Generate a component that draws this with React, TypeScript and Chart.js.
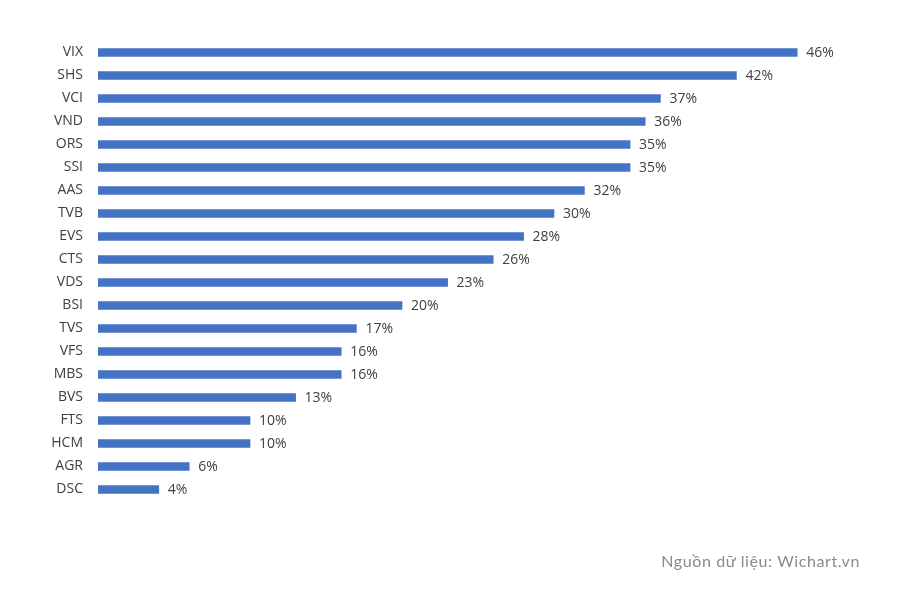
import React, { useEffect, useRef } from "react";
import { Chart, registerables } from "chart.js";

Chart.register(...registerables);

const categories = ["VIX", "SHS", "VCI", "VND", "ORS", "SSI", "AAS", "TVB", "EVS", "CTS", "VDS", "BSI", "TVS", "VFS", "MBS", "BVS", "FTS", "HCM", "AGR", "DSC"];
const values = [46, 42, 37, 36, 35, 35, 32, 30, 28, 26, 23, 20, 17, 16, 16, 13, 10, 10, 6, 4];
const sourceText = "Nguồn dữ liệu: Wichart.vn";

const valueLabels = {
  id: "valueLabels",
  afterDatasetsDraw(chart: any) {
    const ctx = chart.ctx;
    const meta = chart.getDatasetMeta(0);
    ctx.save();
    ctx.font = "14px 'Open Sans', sans-serif";
    ctx.fillStyle = "#404040";
    ctx.textAlign = "left";
    ctx.textBaseline = "middle";
    meta.data.forEach((bar: any, i: number) => {
      ctx.fillText(values[i] + "%", bar.x + 9, bar.y + 1);
    });
    ctx.restore();
  },
};

export default function App() {
  const ref = useRef<HTMLCanvasElement | null>(null);
  useEffect(() => {
    document.body.style.margin = "0";
    const chart = new Chart(ref.current as HTMLCanvasElement, {
      type: "bar",
      data: {
        labels: categories,
        datasets: [
          {
            data: values,
            backgroundColor: "#4472C4",
            barThickness: 8,
          },
        ],
      },
      options: {
        indexAxis: "y",
        animation: false,
        responsive: false,
        maintainAspectRatio: false,
        layout: { padding: { top: 41, bottom: 103, left: 0, right: 42 } },
        plugins: { legend: { display: false }, tooltip: { enabled: false } },
        scales: {
          x: { display: false, min: 0, max: 50 },
          y: {
            grid: { display: false, drawTicks: false },
            border: { display: false },
            ticks: {
              padding: 15,
              color: "#404040",
              font: { size: 14, family: "'Open Sans', sans-serif" },
            },
            afterFit(scale: any) {
              scale.width = 98;
            },
          },
        },
      },
      plugins: [valueLabels],
    });
    return () => chart.destroy();
  }, []);
  return (
    <div style={{ position: "relative", width: 900, height: 604, background: "#fff" }}>
      <canvas ref={ref} width={900} height={604} style={{ position: "absolute", left: 0, top: 0 }} />
      <div
        style={{
          position: "absolute",
          right: 40,
          top: 551,
          fontFamily: "Lato, 'Open Sans', sans-serif",
          fontSize: 16,
          color: "#8a8a8a",
          letterSpacing: 0.6,
        }}
      >
        {sourceText}
      </div>
    </div>
  );
}
